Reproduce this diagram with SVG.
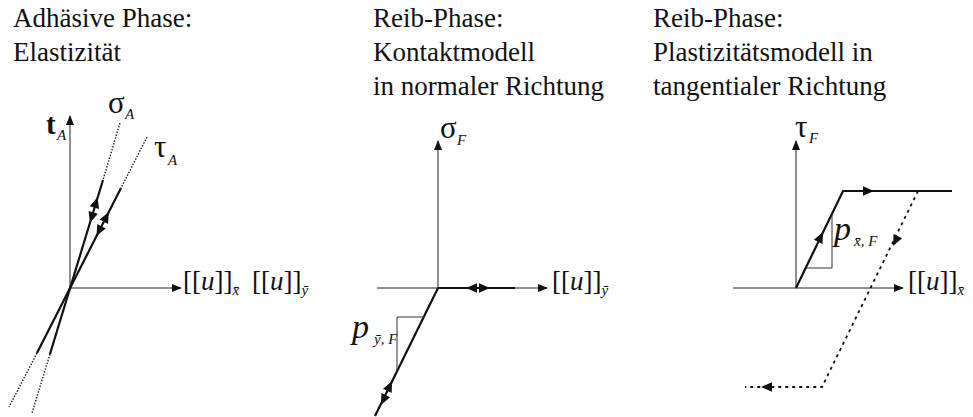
<svg xmlns="http://www.w3.org/2000/svg" width="973" height="417" viewBox="0 0 973 417">
<style>
  text { font-family: "Liberation Serif", "Times New Roman", serif; fill: #111; }
  .t { font-size: 27px; }
  .m { font-size: 27px; }
  .g { font-size: 31px; }
  .b { font-size: 29px; font-weight: bold; }
  .p { font-size: 34px; font-style: italic; }
  .i { font-style: italic; }
  .s { font-size: 15px; font-style: italic; }
  .ax { stroke: #222; stroke-width: 1; fill: none; }
  .thick { stroke: #111; stroke-width: 2.2; fill: none; }
  .dot { stroke: #222; stroke-width: 1.4; fill: none; stroke-dasharray: 1.5 1.5; }
  .dash { stroke: #111; stroke-width: 1.8; fill: none; stroke-dasharray: 3 4; }
  .thin { stroke: #333; stroke-width: 1; fill: none; }
  .ah { fill: #111; }
</style>
<defs>
  <marker id="axArrow" markerWidth="10" markerHeight="8" refX="9" refY="4" orient="auto" markerUnits="userSpaceOnUse">
    <path d="M0,0 L10,4 L0,8 Z" fill="#111"/>
  </marker>
  <path id="ah" d="M0,0 L-11,-4.8 L-11,4.8 Z"/>
</defs>

<g id="titles">
  <text class="t" x="13" y="27">Adhäsive Phase:</text>
  <text class="t" x="13" y="61">Elastizität</text>
  <text class="t" x="373" y="27">Reib-Phase:</text>
  <text class="t" x="373" y="61">Kontaktmodell</text>
  <text class="t" x="373" y="95">in normaler Richtung</text>
  <text class="t" x="653" y="27">Reib-Phase:</text>
  <text class="t" x="653" y="61">Plastizitätsmodell in</text>
  <text class="t" x="653" y="95">tangentialer Richtung</text>
</g>

<g id="panel1">
  <text class="b" x="46" y="134">t</text>
  <text class="s" x="57" y="140">A</text>
  <text class="g" x="108" y="113">σ</text>
  <text class="s" x="125" y="119">A</text>
  <text class="g" x="154" y="157">τ</text>
  <text class="s" x="168" y="165">A</text>
  <text class="m" x="183" y="290">[[<tspan class="i">u</tspan>]]<tspan class="s" dy="5">x&#x304;</tspan></text>
  <text class="m" x="252" y="290">[[<tspan class="i">u</tspan>]]<tspan class="s" dy="5">y&#x304;</tspan></text>
</g>

<g id="panel2">
  <text class="g" x="440" y="138">σ</text>
  <text class="s" x="457" y="145">F</text>
  <text class="m" x="552" y="290">[[<tspan class="i">u</tspan>]]<tspan class="s" dy="5">y&#x304;</tspan></text>
  <text class="p" x="352" y="338">p</text>
  <text class="s" x="374" y="344">y&#x304;, F</text>
</g>

<g id="panel3">
  <text class="g" x="795" y="137">τ</text>
  <text class="s" x="809" y="143">F</text>
  <text class="m" x="908" y="290">[[<tspan class="i">u</tspan>]]<tspan class="s" dy="5">x&#x304;</tspan></text>
  <text class="p" x="834" y="240">p</text>
  <text class="s" x="854" y="246">x&#x304;, F</text>
</g>

<g id="connectors">
  <!-- panel 1 axes -->
  <line class="ax" x1="70" y1="288" x2="70" y2="116" marker-end="url(#axArrow)"/>
  <line class="ax" x1="70" y1="288" x2="181" y2="288" marker-end="url(#axArrow)"/>
  <!-- sigma_A line -->
  <line class="dot" x1="120" y1="123" x2="103" y2="180"/>
  <line class="thick" x1="103" y1="180" x2="50" y2="354"/>
  <line class="dot" x1="50" y1="354" x2="32" y2="413"/>
  <!-- tau_A line -->
  <line class="dot" x1="147" y1="137" x2="121" y2="188"/>
  <line class="thick" x1="121" y1="188" x2="37" y2="353"/>
  <line class="dot" x1="37" y1="353" x2="9" y2="407"/>
  <use href="#ah" class="ah" transform="translate(97.6,197) rotate(-73.1)"/>
  <use href="#ah" class="ah" transform="translate(90,223) rotate(106.9)"/>
  <use href="#ah" class="ah" transform="translate(108.8,212) rotate(-63)"/>
  <use href="#ah" class="ah" transform="translate(96.5,236) rotate(117)"/>

  <!-- panel 2 -->
  <line class="ax" x1="438" y1="288" x2="438" y2="141" marker-end="url(#axArrow)"/>
  <line class="ax" x1="377" y1="288" x2="547" y2="288" marker-end="url(#axArrow)"/>
  <line class="thick" x1="438" y1="288" x2="515" y2="288"/>
  <line class="thick" x1="438" y1="288" x2="375" y2="416"/>
  <use href="#ah" class="ah" transform="translate(466,288) rotate(180)"/>
  <use href="#ah" class="ah" transform="translate(490,288)"/>
  <use href="#ah" class="ah" transform="translate(392.2,381) rotate(-63.8)"/>
  <use href="#ah" class="ah" transform="translate(380.9,405) rotate(116.2)"/>
  <polyline class="thin" points="424,317 397,317 397,370"/>

  <!-- panel 3 -->
  <line class="ax" x1="796" y1="288" x2="796" y2="141" marker-end="url(#axArrow)"/>
  <line class="ax" x1="733" y1="288" x2="903" y2="288" marker-end="url(#axArrow)"/>
  <polyline class="thick" points="796,288 843,191 952,191"/>
  <use href="#ah" class="ah" transform="translate(874,191)"/>
  <use href="#ah" class="ah" transform="translate(823,232) rotate(-64.1)"/>
  <polyline class="thin" points="832,215 832,268 806,268"/>
  <polyline class="dash" points="918,191 822,387 745,387"/>
  <use href="#ah" class="ah" transform="translate(893,246) rotate(116.1)"/>
  <use href="#ah" class="ah" transform="translate(761,387) rotate(180)"/>
</g>
</svg>
